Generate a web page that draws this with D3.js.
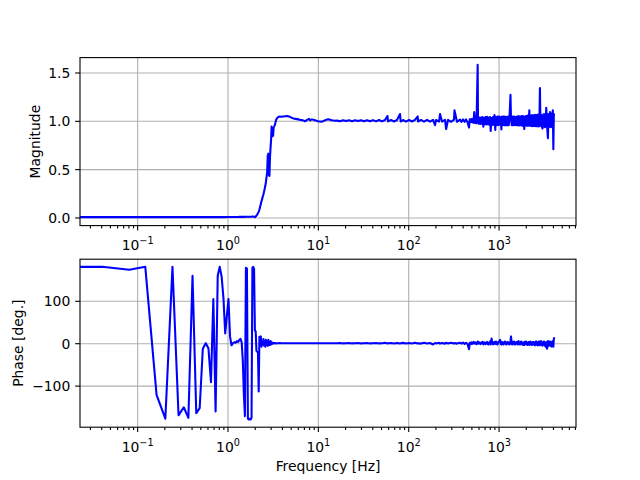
<!DOCTYPE html>
<html>
<head>
<meta charset="utf-8">
<script src="https://cdn.jsdelivr.net/npm/d3@7"></script>
<style>
    body { margin: 0; background: #fff; }
    svg { font-family: "DejaVu Sans", sans-serif; }
    .grid line { stroke: #b0b0b0; stroke-width: 1.1; }
    .grid path, .axis path { display: none; }
    .axis line { stroke: #000; stroke-width: 1.1; }
    .axis text { font-family: "DejaVu Sans", sans-serif; font-size: 13.9px; fill: #000; }
</style>
</head>
<body>
<div id="chart"></div>
<script>
// frequency grid [Hz]
var freq = [
    0.01, 0.041, 0.082, 0.123, 0.164, 0.205, 0.246, 0.287, 0.328, 0.369,
    0.410, 0.451, 0.492, 0.533, 0.574, 0.615, 0.656, 0.697, 0.738, 0.779,
    0.820, 0.861, 0.902, 0.943, 0.984, 1.025, 1.066, 1.107, 1.148, 1.189,
    1.230, 1.271, 1.312, 1.353, 1.394, 1.435, 1.476, 1.517, 1.558, 1.599,
    1.640, 1.681, 1.722, 1.763, 1.804, 1.845, 1.886, 1.927, 1.968, 2.009,
    2.050, 2.091, 2.132, 2.173, 2.214, 2.255, 2.296, 2.337, 2.378, 2.419,
    2.460, 2.501, 2.542, 2.583, 2.624, 2.665, 2.706, 2.747, 2.788, 2.829,
    2.870, 2.911, 2.952, 2.993, 3.034, 3.075, 3.116, 3.157, 3.198, 3.239,
    3.280, 3.35, 3.45, 3.55, 3.65, 3.80, 3.95, 4.15, 4.35, 4.55,
    4.80, 5.05, 5.35, 5.70, 6.05, 6.35, 6.85, 7.20, 7.60, 8.00,
    8.20, 8.60, 9.30, 10.0, 11.0, 12.0, 13.0, 14.3, 15.5, 16.29,
    17.59, 18.98, 20.49, 22.12, 23.88, 25.78, 27.83, 30.04, 32.43, 34.99,
    37.77, 40.78, 44.02, 47.52, 51.29, 55.37, 58.9, 59.77, 64.52, 69.65,
    75.16, 81.15, 82.5, 87.60, 94.54, 102.1, 110.2, 118.9, 127.5, 128.4,
    138.6, 149.6, 161.5, 174.3, 188.2, 198, 203.1, 219.2, 225, 236.7,
    255.4, 263, 275.7, 297.6, 321.3, 325, 346.8, 374.4, 389.0, 404.1,
    419.9, 436.2, 453.2, 470.9, 480.0, 489.2, 498.6, 508.3, 518.0, 528.1,
    538, 548.7, 559.3, 570.1, 587, 592.3, 603.7, 615.4, 627.2, 639.3,
    651.7, 664.3, 678, 690.1, 703.4, 717.0, 730.8, 744.9, 759.3, 774.0,
    788.9, 804.1, 818, 835.5, 851.5, 867.9, 884.7, 901.8, 920, 936.9,
    955.0, 973.4, 992.3, 1012, 1040, 1057, 1074, 1092, 1113, 1135,
    1157, 1179, 1202, 1225, 1248, 1272, 1297, 1322, 1355, 1373,
    1400, 1427, 1455, 1483, 1511, 1540, 1570, 1600, 1631, 1663,
    1695, 1728, 1761, 1795, 1830, 1865, 1928, 1938, 1975, 2013,
    2052, 2092, 2132, 2173, 2189, 2222, 2258, 2300, 2346, 2390,
    2437, 2485, 2532, 2580, 2631, 2682, 2734, 2787, 2840, 2869,
    2910, 2951, 3008, 3066, 3125, 3184, 3246, 3309, 3372, 3438,
    3519, 3572, 3640, 3711, 3780, 3855, 3920, 3985, 4040, 4090,
    4140
];

// magnitude (linear)
var mag = [
    0.004, 0.004, 0.004, 0.004, 0.004, 0.004, 0.004, 0.004, 0.004, 0.004,
    0.004, 0.004, 0.004, 0.004, 0.004, 0.004, 0.004, 0.004, 0.004, 0.004,
    0.004, 0.004, 0.004, 0.004, 0.005, 0.005, 0.005, 0.005, 0.005, 0.005,
    0.005, 0.005, 0.005, 0.006, 0.006, 0.006, 0.006, 0.006, 0.006, 0.007,
    0.007, 0.007, 0.007, 0.007, 0.008, 0.008, 0.010, 0.010, 0.008, 0.002,
    0.010, 0.020, 0.030, 0.045, 0.060, 0.080, 0.110, 0.140, 0.170, 0.190,
    0.220, 0.240, 0.270, 0.300, 0.330, 0.370, 0.420, 0.470, 0.640, 0.660,
    0.440, 0.430, 0.620, 0.720, 0.800, 0.940, 0.880, 0.840, 0.850, 0.930,
    0.940, 0.960, 1.010, 1.030, 1.040, 1.045, 1.042, 1.045, 1.048, 1.050,
    1.045, 1.035, 1.025, 1.020, 1.015, 1.010, 1.005, 0.995, 1.010, 1.020,
    1.005, 1.015, 1.005, 0.995, 0.990, 1.005, 1.015, 1.005, 1.000, 1.002,
    0.996, 1.005, 0.997, 1.005, 0.996, 1.006, 0.997, 1.006, 0.996, 1.006,
    0.995, 1.007, 0.994, 1.008, 0.994, 1.008, 1.050, 0.994, 1.008, 0.993,
    1.008, 1.070, 0.993, 1.008, 0.992, 1.008, 0.993, 1.009, 1.045, 0.993,
    1.009, 0.992, 1.010, 0.992, 1.010, 0.955, 1.008, 0.992, 1.070, 0.992,
    1.010, 0.915, 1.010, 0.990, 1.012, 1.110, 0.990, 1.012, 0.990, 1.014,
    0.990, 1.015, 0.985, 0.930, 1.015, 0.988, 1.018, 0.985, 1.022, 0.980,
    1.090, 0.978, 1.030, 0.975, 1.580, 1.010, 0.970, 1.035, 0.968, 1.035,
    0.970, 1.040, 0.940, 1.030, 0.965, 1.040, 0.962, 1.042, 0.965, 1.035,
    0.960, 1.040, 0.895, 1.030, 0.958, 1.040, 0.960, 1.060, 0.905, 1.040,
    0.958, 1.045, 0.955, 1.045, 0.960, 1.040, 0.910, 1.045, 0.955, 1.045,
    0.955, 1.045, 0.955, 1.040, 0.955, 1.045, 0.955, 1.040, 1.270, 1.020,
    0.955, 1.045, 0.955, 1.045, 0.958, 1.040, 0.955, 1.045, 0.955, 1.050,
    0.952, 1.045, 0.955, 1.050, 0.950, 1.050, 0.915, 1.045, 0.952, 1.050,
    0.950, 1.055, 0.950, 1.050, 1.110, 0.950, 1.055, 0.948, 1.060, 0.945,
    1.058, 0.948, 1.062, 0.945, 1.060, 0.945, 1.065, 0.942, 1.060, 1.340,
    0.950, 1.065, 0.940, 0.920, 1.065, 1.070, 0.935, 0.940, 1.135, 0.950,
    0.820, 1.070, 0.940, 1.090, 0.935, 1.075, 0.940, 1.110, 0.705, 1.070,
    1.060
];

// phase [deg.]
var phase = [
    180, 180, 173, 180, -122, -178, 180, -170, -151, -176,
    159, -165, -153, -13, 0, -12, -92, 104, -161, 159,
    180, 157, 106, 23, 65, 104, 16, -5, 0, 2,
    1, 5, 3, 8, 10, 2, -40, -120, -172, 178,
    176, -178, -180, -178, -180, -176, 178, 180, 175, 30,
    28, -18, -20, -22, -114, 15, -5, 16, -8, 3,
    -3, 10, -6, 5, -8, 8, -4, 2, -6, 8,
    -5, 3, -4, 5, -3, 2, -1, 1, -1, 1,
    0, 0.5, -0.5, 0, 0, 0.3, -0.3, 0, 0, 0,
    0, 0, 0, 0, 0, 0, 0, 0, 0, 0,
    0, 0, 0, 0, 0, 0, 0, 0, 0, 0,
    0.5, -0.5, 0, 0.5, -0.5, 0, 0.5, -0.5, 0, 0.5,
    -0.5, 0, 0.5, -0.5, 0, 0.8, -0.8, 0, 0.5, -0.5,
    0.5, -0.8, 0, 0.8, -0.8, 0.5, -0.5, 1, -0.5, 0,
    -1, 1, -0.5, 0.5, -3, 0.5, -0.5, 1, -1, 0.5,
    -1, 1, -0.5, 1, -1, 0.5, -1, 1, -1, 1.5,
    -1.5, 1, -2, -14, 1, -1, 2, -2, 1, 3,
    -1, 2, -1, -2, 4, -1, 1, 2, -2, -1,
    2, 3, -3, 2, -1, -2, 2, 3, -2, -3,
    2, 4, -3, 11, 2, -3, 2, 3, -2, 4,
    -2, -3, 3, 3, 8, -2, -3, 3, -2, -3,
    3, 4, -2, -3, 3, 3, -2, -3, 4, 16,
    -2, -3, 3, 4, -3, -3, 3, 3, -3, 5,
    -2, -3, 3, 4, -3, -4, 3, -4, 3, 4,
    -3, -4, 3, 3, -4, 3, 4, -4, -4, 3,
    3, -4, -5, 4, 4, -5, -5, 4, 4, -5,
    3, 5, -4, -6, 3, 4, -5, -8, 3, -13,
    5, -7, 4, 4, -6, -8, 4, 5, -8, 10,
    14
];

// tick values
var decades = [-1, 0, 1, 2, 3];
var magTicks = [0, 0.5, 1.0, 1.5];
var phaseTicks = [-100, 0, 100];

var width = 640, height = 480;
var left = 80, w = 496, h = 168;
var tops = [57.6, 259.2];
var tickLen = 4.86, minorLen = 2.78, pad = 4.86;

var svg = d3.select("#chart").append("svg")
    .attr("width", width)
    .attr("height", height);

var x = d3.scaleLog().domain([0.0233, 7195]).range([0, w]);

var minors = [];
for (var e = -2; e <= 3; e++) {
    for (var m = 2; m <= 9; m++) {
        var v = m * Math.pow(10, e);
        if (v > x.domain()[0] && v < x.domain()[1]) minors.push(v);
    }
}

function panel(idx, values, yDomain, yTicks, fmt, label, labelX) {
    var y = d3.scaleLinear().domain(yDomain).range([h, 0]);
    var g = svg.append("g").attr("transform", "translate(" + left + "," + tops[idx] + ")");

    // grid
    g.append("g").attr("class", "grid")
        .call(d3.axisBottom(x).tickValues(decades.map(function (d) { return Math.pow(10, d); }))
            .tickSize(h).tickFormat(""));
    g.append("g").attr("class", "grid")
        .call(d3.axisLeft(y).tickValues(yTicks).tickSize(-w).tickFormat(""));

    // data
    var clipId = "clip" + idx;
    g.append("clipPath").attr("id", clipId)
        .append("rect").attr("width", w).attr("height", h);
    var line = d3.line()
        .x(function (d) { return x(d[0]); })
        .y(function (d) { return y(d[1]); });
    g.append("path")
        .attr("clip-path", "url(#" + clipId + ")")
        .attr("d", line(d3.zip(freq, values)))
        .attr("fill", "none")
        .attr("stroke", "#0000ff")
        .attr("stroke-width", 2.08)
        .attr("stroke-linejoin", "round");

    // spines
    g.append("rect").attr("width", w).attr("height", h)
        .attr("fill", "none").attr("stroke", "#000").attr("stroke-width", 1.1);

    // y axis
    g.append("g").attr("class", "axis")
        .call(d3.axisLeft(y).tickValues(yTicks).tickSize(tickLen).tickPadding(pad).tickFormat(fmt))
        .attr("font-size", null).attr("font-family", null)
        .selectAll("text").attr("dy", "0.36em");

    // x axis, major + minor
    var xa = g.append("g").attr("class", "axis")
        .attr("transform", "translate(0," + h + ")")
        .call(d3.axisBottom(x).tickValues(decades.map(function (d) { return Math.pow(10, d); }))
            .tickSize(tickLen).tickFormat(""))
        .attr("font-size", null).attr("font-family", null);
    xa.selectAll(".tick").each(function (d) {
        var t = d3.select(this).append("text")
            .attr("y", 24.5)
            .attr("text-anchor", "middle");
        var ex = Math.round(Math.log10(d));
        t.append("tspan").text("10");
        t.append("tspan").attr("dy", -5.6).attr("font-size", "9.7px")
            .text(d3.format("d")(ex));
    });
    g.append("g").attr("class", "axis")
        .attr("transform", "translate(0," + h + ")")
        .call(d3.axisBottom(x).tickValues(minors).tickSize(minorLen).tickFormat(""));

    // y label
    svg.append("text")
        .attr("transform", "translate(" + labelX + "," + (tops[idx] + h / 2) + ") rotate(-90)")
        .attr("text-anchor", "middle")
        .attr("font-size", "13.9px")
        .text(label);
}

panel(0, mag, [-0.084, 1.654], magTicks, d3.format(".1f"), "Magnitude", 40.3);
panel(1, phase, [-198, 198], phaseTicks, d3.format("d"), "Phase [deg.]", 22.6);

svg.append("text")
    .attr("x", left + w / 2)
    .attr("y", 471)
    .attr("text-anchor", "middle")
    .attr("font-size", "13.9px")
    .text("Frequency [Hz]");
</script>
</body>
</html>
